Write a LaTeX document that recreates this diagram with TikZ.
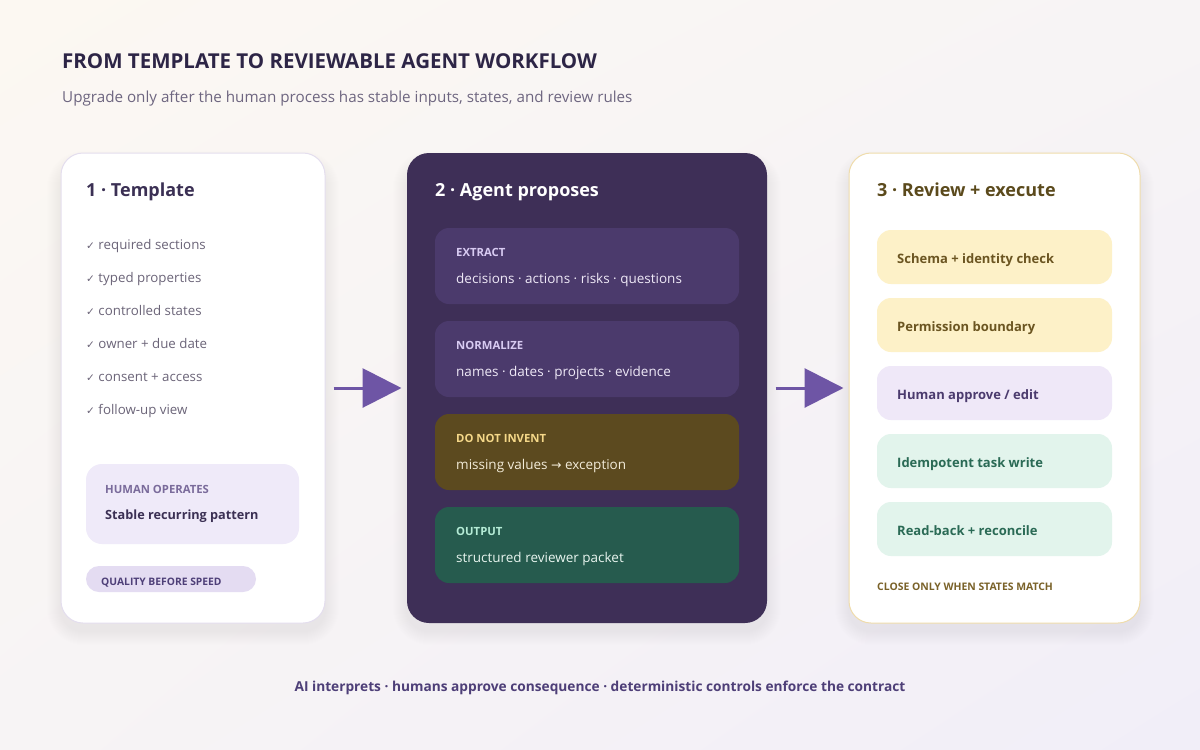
\documentclass[tikz,border=0pt]{standalone}
\usepackage{fontspec}
\setmainfont{Open Sans}
\newfontfamily\symfont{DejaVu Sans}
\usetikzlibrary{arrows.meta,shadings}
\definecolor{bgwarm}{HTML}{FCF8F2}
\definecolor{bgmid}{HTML}{F7F4F5}
\definecolor{bglav}{HTML}{F1EEF8}
\definecolor{titlec}{HTML}{2D2546}
\definecolor{subc}{HTML}{6E6680}
\definecolor{cardonebd}{HTML}{E4DEEE}
\definecolor{headone}{HTML}{3B3054}
\definecolor{itemc}{HTML}{6B6478}
\definecolor{hboxc}{HTML}{EFEAF9}
\definecolor{hlabelc}{HTML}{7A6B9B}
\definecolor{pillc}{HTML}{E4DCF2}
\definecolor{pilltc}{HTML}{4E3F78}
\definecolor{arrowc}{HTML}{6E55A5}
\definecolor{cardtwo}{HTML}{3E2F57}
\definecolor{pboxc}{HTML}{4B3A6C}
\definecolor{plabelc}{HTML}{D8CBF2}
\definecolor{ptextc}{HTML}{EFE9F7}
\definecolor{yboxc}{HTML}{5C4A1F}
\definecolor{ylabelc}{HTML}{F5D889}
\definecolor{ytextc}{HTML}{F3ECD9}
\definecolor{gboxc}{HTML}{265B4E}
\definecolor{glabelc}{HTML}{B5ECD6}
\definecolor{gtextc}{HTML}{E8F5EF}
\definecolor{cardthreebd}{HTML}{EFDCAC}
\definecolor{headthree}{HTML}{5B4A1C}
\definecolor{ylight}{HTML}{FDF1C8}
\definecolor{ylighttc}{HTML}{6B5521}
\definecolor{vlight}{HTML}{EFE8F8}
\definecolor{vlighttc}{HTML}{4B3B6E}
\definecolor{glight}{HTML}{E2F4EC}
\definecolor{glighttc}{HTML}{2A6A55}
\definecolor{closec}{HTML}{7A6229}
\definecolor{footc}{HTML}{4E3F78}
\definecolor{shadowc}{HTML}{3A2C5A}
\tikzset{
  txt/.style={anchor=west, inner sep=0pt, text height=0.74em, text depth=0.24em, yshift=-2.5pt},
  card/.style={rounded corners=22pt, line width=1pt, inner sep=0pt},
  softshadow/.style={fill=shadowc, fill opacity=0.005},
  inbox/.style={rounded corners=14pt, inner sep=0pt, minimum width=304pt, minimum height=76pt},
  rbox/.style={rounded corners=14pt, inner sep=0pt, minimum width=235pt, minimum height=54pt},
  head/.style={txt, font=\fontsize{18}{20}\selectfont\bfseries},
  item/.style={txt, font=\fontsize{13.3}{15}\selectfont, text=itemc},
  blabel/.style={txt, font=\fontsize{11.3}{13}\selectfont\bfseries},
  btext/.style={txt, font=\fontsize{13.5}{15}\selectfont},
  rtext/.style={txt, font=\fontsize{13}{15}\selectfont\bfseries},
  flow/.style={line width=3pt, draw=arrowc, -{Triangle[length=39pt,width=39pt]}},
}
\begin{document}
\begin{tikzpicture}[x=1pt,y=-1pt]
\useasboundingbox (0,0) rectangle (1200,750);
\shade[upper left=bgwarm, upper right=bgmid, lower left=bgmid, lower right=bglav] (0,0) rectangle (1200,750);

\node[txt, font=\fontsize{20.5}{24}\selectfont\bfseries, text=titlec] (title) at (62,63) {FROM TEMPLATE TO REVIEWABLE AGENT WORKFLOW};
\node[txt, font=\fontsize{15.2}{18}\selectfont, text=subc] (subtitle) at (62,97) {Upgrade only after the human process has stable inputs, states, and review rules};

% soft shadows
\foreach \xa/\xb in {61/325, 407/767, 849/1140}{
  \foreach \k in {1,...,14}{
    \fill[softshadow, rounded corners={22pt+\k pt}] ({\xa-\k},{153-\k+12}) rectangle ({\xb+\k},{623+\k+8});
  }
}

% Card 1
\node[card, draw=cardonebd, fill=white, minimum width=264pt, minimum height=470pt] (c1) at (193,388) {};
\node[head, text=headone] (h1) at (86,191) {1 · Template};
\foreach \t [count=\i] in {required sections, typed properties, controlled states, owner + due date, consent + access, follow-up view}{
  \node[item] (it\i) at (86,{244+33*(\i-1)}) {{\symfont\fontsize{10.5}{12}\selectfont ✓}\hspace{3.5pt}\t};
}
\node[rounded corners=16pt, fill=hboxc, minimum width=213pt, minimum height=80pt, inner sep=0pt] (hbox) at (192.5,504) {};
\node[blabel, text=hlabelc] (hlabel) at (105,488) {HUMAN OPERATES};
\node[txt, font=\fontsize{12.7}{15}\selectfont\bfseries, text=headone] (htext) at (105,514) {Stable recurring pattern};
\node[rounded corners=13pt, fill=pillc, minimum width=170pt, minimum height=26pt, inner sep=0pt] (pill) at (171,579) {};
\node[txt, font=\fontsize{10.3}{12}\selectfont\bfseries, text=pilltc] (pilltext) at (101,580) {QUALITY BEFORE SPEED};

% Card 2
\node[card, fill=cardtwo, minimum width=360pt, minimum height=470pt] (c2) at (587,388) {};
\node[head, text=white] (h2) at (435,191) {2 · Agent proposes};
\node[inbox, fill=pboxc] (b1) at (587,266) {};
\node[blabel, text=plabelc] (b1l) at (456,251) {EXTRACT};
\node[btext, text=ptextc] (b1t) at (456,278) {decisions · actions · risks · questions};
\node[inbox, fill=pboxc] (b2) at (587,359) {};
\node[blabel, text=plabelc] (b2l) at (456,344) {NORMALIZE};
\node[btext, text=ptextc] (b2t) at (456,371) {names · dates · projects · evidence};
\node[inbox, fill=yboxc] (b3) at (587,452) {};
\node[blabel, text=ylabelc] (b3l) at (456,437) {DO NOT INVENT};
\node[btext, text=ytextc] (b3t) at (456,464) {missing values {\symfont\fontsize{12.5}{14}\selectfont →} exception};
\node[inbox, fill=gboxc] (b4) at (587,545) {};
\node[blabel, text=glabelc] (b4l) at (456,530) {OUTPUT};
\node[btext, text=gtextc] (b4t) at (456,557) {structured reviewer packet};

% Card 3
\node[card, draw=cardthreebd, fill=white, minimum width=291pt, minimum height=470pt] (c3) at (994.5,388) {};
\node[head, text=headthree] (h3) at (877,191) {3 · Review + execute};
\node[rbox, fill=ylight] (r1) at (994.5,257) {};
\node[rtext, text=ylighttc] (r1t) at (897,258) {Schema + identity check};
\node[rbox, fill=ylight] (r2) at (994.5,325) {};
\node[rtext, text=ylighttc] (r2t) at (897,326) {Permission boundary};
\node[rbox, fill=vlight] (r3) at (994.5,393) {};
\node[rtext, text=vlighttc] (r3t) at (897,394) {Human approve / edit};
\node[rbox, fill=glight] (r4) at (994.5,461) {};
\node[rtext, text=glighttc] (r4t) at (897,462) {Idempotent task write};
\node[rbox, fill=glight] (r5) at (994.5,529) {};
\node[rtext, text=glighttc] (r5t) at (897,530) {Read-back + reconcile};
\node[txt, font=\fontsize{10.4}{12}\selectfont\bfseries, text=closec] (close) at (877,585) {CLOSE ONLY WHEN STATES MATCH};

% arrows
\draw[flow] ([xshift=8pt]c1.east) -- ([xshift=-5pt]c2.west);
\draw[flow] ([xshift=8pt]c2.east) -- ([xshift=-5pt]c3.west);

\node[font=\fontsize{13.7}{17}\selectfont\bfseries, text=footc, inner sep=0pt] (foot) at (600,688) {AI interprets · humans approve consequence · deterministic controls enforce the contract};
\end{tikzpicture}
\end{document}
